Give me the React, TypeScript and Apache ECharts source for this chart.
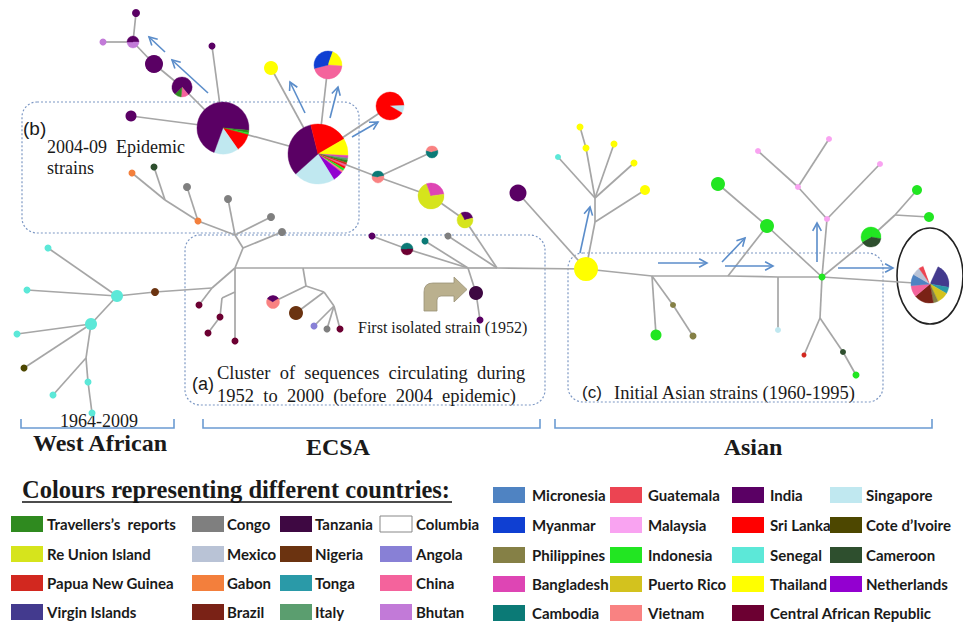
import React, { useEffect, useRef } from "react";
import * as echarts from "echarts";

type Slice = [string, number];
type NodeT = [string, number, number, number, Slice[]];

const TR = "Travellers’s  reports";
const CI = "Cote d’Ivoire";

// ---- legend (country colours) ----
const legendLeftNames = [TR, "Re Union Island", "Papua New Guinea", "Virgin Islands", "Congo", "Mexico", "Gabon", "Brazil", "Tanzania", "Nigeria", "Tonga", "Italy", "Columbia", "Angola", "China", "Bhutan"];
const legendLeftColors = ["#2f8a1f", "#d6e41c", "#d2281f", "#433a8e", "#7f7f7f", "#b9c3d6", "#f37f3c", "#7a2216", "#3e0842", "#6b3310", "#2a9aa8", "#5b9e6f", "#ffffff", "#8880d6", "#f4639c", "#c27ad8"];
const legendRightNames = ["Micronesia", "Myanmar", "Philippines", "Bangladesh", "Cambodia", "Guatemala", "Malaysia", "Indonesia", "Puerto Rico", "Vietnam", "India", "Sri Lanka", "Senegal", "Thailand", "Central African Republic", "Singapore", CI, "Cameroon", "Netherlands"];
const legendRightColors = ["#4f83c2", "#0f3fd2", "#858046", "#de45b4", "#0b7a76", "#ec4452", "#f9a3f1", "#22e622", "#d3c21e", "#f98282", "#5a0064", "#ff0000", "#5ce8d8", "#ffff00", "#6c0032", "#c0e8f0", "#4d4700", "#2e4f2e", "#9300d0"];

// ---- network nodes: id, x, y, radius, composition (degrees clockwise from 12 o'clock) ----
const westAfricanNodes: NodeT[] = [
  ["wa1", 48, 248, 3.5, [["Senegal", 1]]],
  ["wa2", 27, 290, 3.5, [["Senegal", 1]]],
  ["waHub", 117, 296, 6, [["Senegal", 1]]],
  ["waBrown", 155, 292, 4, [["Nigeria", 1]]],
  ["waHub2", 91, 324, 6, [["Senegal", 1]]],
  ["wa3", 17, 334, 3.5, [["Senegal", 1]]],
  ["wa4", 24, 368, 3.5, [[CI, 1]]],
  ["waJ", 86, 358, 0, []],
  ["wa5", 53, 395, 3.5, [["Senegal", 1]]],
  ["wa6", 88, 382, 3.5, [["Senegal", 1]]],
  ["wa7", 92, 413, 3.5, [["Senegal", 1]]],
];

const ecsaNodes: NodeT[] = [
  ["eB", 212, 288, 0, []],
  ["eA", 235, 268, 0, []],
  ["eC", 235, 292, 0, []],
  ["eD", 222, 298, 0, []],
  ["dr1", 199, 305, 3.5, [["Central African Republic", 1]]],
  ["dr2", 220, 317, 3.5, [["Central African Republic", 1]]],
  ["dr3", 208, 333, 3.5, [["Central African Republic", 1]]],
  ["dr4", 235, 341, 3.5, [["Central African Republic", 1]]],
  ["eJ1", 243, 248, 0, []],
  ["eJ2", 235, 235, 0, []],
  ["eK", 165, 200, 0, []],
  ["gab1", 132, 173, 3.5, [["Gabon", 1]]],
  ["cam1", 154, 167, 3.5, [["Cameroon", 1]]],
  ["gab2", 198, 221, 3.5, [["Gabon", 1]]],
  ["con1", 187, 187, 4, [["Congo", 1]]],
  ["con2", 228, 199, 4, [["Congo", 1]]],
  ["con3", 271, 217, 4, [["Congo", 1]]],
  ["con4", 282, 232, 4, [["Congo", 1]]],
  ["eM1", 303, 268, 0, []],
  ["eM2", 306, 286, 0, []],
  ["ePie1", 273, 302, 6.5, [["India", 60], ["Vietnam", 240], ["India", 60]]],
  ["eM3", 324, 292, 0, []],
  ["nig", 296, 313, 7, [["Nigeria", 1]]],
  ["eM4", 334, 306, 0, []],
  ["ang", 314, 326, 3.5, [["Angola", 1]]],
  ["con5", 327, 329, 3.5, [["Congo", 1]]],
  ["dr5", 340, 329, 3.5, [["Central African Republic", 1]]],
  ["eJa", 468, 268, 0, []],
  ["eJb", 497, 268, 0, []],
  ["tanz", 476, 293, 7, [["Tanzania", 1]]],
  ["tanzS", 480, 320, 3.5, [["India", 1]]],
  ["indS", 372, 236, 3.5, [["India", 1]]],
  ["ePie2", 407, 249, 6, [["Cambodia", 90], ["Central African Republic", 180], ["Cambodia", 90]]],
  ["camb1", 425, 241, 3.5, [["Cambodia", 1]]],
  ["con6", 448, 236, 3.5, [["Congo", 1]]],
];

const epidemicNodes: NodeT[] = [
  ["ep1", 136, 13, 4, [["India", 1]]],
  ["ep2", 133, 42, 6, [["India", 90], ["Bhutan", 180], ["India", 90]]],
  ["ep3", 103, 42, 3.5, [["Bhutan", 1]]],
  ["ep4", 154, 64, 9, [["India", 1]]],
  ["ep5", 182, 87, 10, [["India", 140], ["China", 45], [TR, 40], ["India", 135]]],
  ["ep6", 212, 46, 3.5, [["India", 1]]],
  ["ep7", 131, 116, 5.5, [["India", 1]]],
  ["ep8", 223, 128, 26, [["India", 95], [TR, 6], ["Indonesia", 4], ["Sri Lanka", 40], ["Singapore", 55], ["India", 160]]],
  ["ep9", 271, 68, 7, [["Thailand", 1]]],
  ["ep10", 328, 65, 14, [["Myanmar", 20], ["Thailand", 74], ["China", 162], ["Myanmar", 104]]],
  ["ep11", 390, 106, 14, [["Sri Lanka", 88], ["Singapore", 32], ["Sri Lanka", 240]]],
  ["ep12", 318, 154, 30, [["Sri Lanka", 60], ["Thailand", 33], ["Bangladesh", 5], ["Italy", 4], [TR, 5], ["Papua New Guinea", 4], ["China", 4], ["Sri Lanka", 4], ["Indonesia", 5], ["Vietnam", 4], ["Netherlands", 20], ["Singapore", 80], ["India", 118], ["Sri Lanka", 14]]],
  ["ep13", 378, 177, 6, [["Cambodia", 80], ["Vietnam", 200], ["Cambodia", 80]]],
  ["ep14", 432, 152, 6, [["Vietnam", 75], ["Cambodia", 210], ["Vietnam", 75]]],
  ["ep15", 431, 196, 13, [["Bangladesh", 82], ["Re Union Island", 258], ["Bangladesh", 20]]],
  ["ep16", 465, 220, 8, [["India", 75], ["Re Union Island", 255], ["India", 30]]],
];

const asianNodes: NodeT[] = [
  ["hub", 586, 269, 12, [["Thailand", 1]]],
  ["purp", 518, 193, 8.5, [["India", 1]]],
  ["aJu1", 595, 222, 0, []],
  ["aJu2", 595, 198, 0, []],
  ["aY1", 645, 190, 5, [["Thailand", 1]]],
  ["aC", 558, 157, 3, [["Senegal", 1]]],
  ["aY2", 586, 148, 3.5, [["Thailand", 1]]],
  ["aY3", 580, 127, 3.5, [["Thailand", 1]]],
  ["aY4", 614, 144, 3.5, [["Thailand", 1]]],
  ["aY5", 634, 163, 3.5, [["Thailand", 1]]],
  ["aM1", 652, 276, 0, []],
  ["aG1", 656, 335, 5.5, [["Indonesia", 1]]],
  ["aP1", 673, 305, 3, [["Philippines", 1]]],
  ["aP2", 693, 336, 3.5, [["Philippines", 1]]],
  ["aM2", 728, 276, 0, []],
  ["aGr1", 718, 184, 7, [["Indonesia", 1]]],
  ["aGr2", 767, 226, 7, [["Indonesia", 1]]],
  ["aM3", 778, 277, 0, []],
  ["aSg", 778, 330, 3, [["Singapore", 1]]],
  ["aJ", 822, 277, 3.5, [["Indonesia", 1]]],
  ["aPk1", 758, 151, 3, [["Malaysia", 1]]],
  ["aPk2", 829, 139, 3, [["Malaysia", 1]]],
  ["aPk3", 798, 187, 3, [["Malaysia", 1]]],
  ["aPk4", 827, 219, 3, [["Malaysia", 1]]],
  ["aPk5", 880, 164, 3, [["Malaysia", 1]]],
  ["aGp", 871, 237, 10, [["Indonesia", 100], ["Cameroon", 140], ["Indonesia", 120]]],
  ["aJ3", 895, 215, 0, []],
  ["aG2", 917, 190, 5, [["Indonesia", 1]]],
  ["aG3", 929, 217, 5, [["Indonesia", 1]]],
  ["aJ4", 820, 318, 0, []],
  ["aPng", 804, 355, 2.5, [["Papua New Guinea", 1]]],
  ["aCm", 843, 352, 3, [["Cameroon", 1]]],
  ["aG4", 856, 375, 3.5, [["Indonesia", 1]]],
  ["aCircle", 930, 284, 19, [["Columbia", 25], ["Virgin Islands", 75], ["Tonga", 20], ["Puerto Rico", 35], ["Philippines", 15], ["Brazil", 60], ["China", 35], ["Micronesia", 35], ["Mexico", 25], ["Guatemala", 15], ["Columbia", 20]]],
];

// ---- network links ----
const westAfricanEdges: [string, string][] = [
  ["wa1", "waHub"], ["wa2", "waHub"], ["waHub", "waBrown"], ["waHub", "waHub2"], ["waHub2", "wa3"], ["waHub2", "wa4"],
  ["waHub2", "waJ"], ["waJ", "wa5"], ["waJ", "wa6"], ["wa6", "wa7"], ["waBrown", "eB"],
];
const ecsaEdges: [string, string][] = [
  ["eB", "eA"], ["eB", "dr1"], ["eA", "eC"], ["eC", "dr4"], ["eC", "eD"], ["eD", "dr2"], ["dr2", "dr3"],
  ["eA", "eJ1"], ["eJ1", "eJ2"], ["eJ1", "con4"], ["eJ2", "gab2"], ["eJ2", "con2"], ["eJ2", "con3"],
  ["gab2", "eK"], ["gab2", "con1"], ["eK", "gab1"], ["eK", "cam1"],
  ["eA", "eM1"], ["eM1", "eM2"], ["eM2", "ePie1"], ["eM2", "eM3"], ["eM3", "nig"], ["eM3", "eM4"],
  ["eM4", "ang"], ["eM4", "con5"], ["eM4", "dr5"],
  ["eM1", "eJa"], ["eJa", "eJb"], ["eJa", "tanz"], ["tanz", "tanzS"], ["eJa", "ePie2"], ["ePie2", "indS"],
  ["eJa", "camb1"], ["eJb", "con6"], ["eJb", "hub"],
];
const epidemicEdges: [string, string][] = [
  ["ep1", "ep2"], ["ep2", "ep3"], ["ep2", "ep4"], ["ep4", "ep5"], ["ep5", "ep8"], ["ep6", "ep8"], ["ep7", "ep8"],
  ["ep8", "ep12"], ["ep12", "ep9"], ["ep12", "ep10"], ["ep12", "ep11"], ["ep12", "ep13"], ["ep13", "ep14"],
  ["ep13", "ep15"], ["ep15", "ep16"], ["ep16", "eJb"],
];
const asianEdges: [string, string][] = [
  ["purp", "hub"], ["hub", "aJu1"], ["aJu1", "aJu2"], ["aJu1", "aY1"], ["aJu2", "aC"], ["aJu2", "aY2"], ["aY2", "aY3"],
  ["aJu2", "aY4"], ["aJu2", "aY5"], ["hub", "aM1"], ["aM1", "aG1"], ["aM1", "aP1"], ["aP1", "aP2"], ["aM1", "aM2"],
  ["aM2", "aGr2"], ["aGr1", "aGr2"], ["aGr2", "aJ"], ["aM2", "aM3"], ["aM3", "aSg"], ["aM3", "aJ"],
  ["aJ", "aPk4"], ["aPk4", "aPk3"], ["aPk3", "aPk1"], ["aPk3", "aPk2"], ["aPk4", "aPk5"],
  ["aJ", "aGp"], ["aGp", "aJ3"], ["aJ3", "aG2"], ["aJ3", "aG3"], ["aJ", "aJ4"], ["aJ4", "aPng"], ["aJ4", "aCm"],
  ["aCm", "aG4"], ["aJ", "aCircle"],
];

// ---- spread arrows: x1, y1, x2, y2 ----
const spreadArrows: number[][] = [
  [208, 93, 172, 60], [165, 52, 149, 37], [305, 113, 290, 82], [330, 118, 338, 87], [352, 137, 378, 122],
  [580, 253, 590, 207], [658, 263, 707, 263], [722, 262, 745, 238], [725, 266, 773, 266], [817, 262, 817, 223], [838, 268, 893, 268],
];

const SERIF = '"Liberation Serif", "Times New Roman", serif';
const SANS = '"Liberation Sans", Arial, sans-serif';
const LEG = 'Lato, "Open Sans", sans-serif';

echarts.graphic.registerShape(
  "bentArrow",
  echarts.graphic.extendPath("M0,34 L0,15 Q0,6 9,6 L30,6 L30,0 L43,12.5 L30,25 L30,19 L17,19 Q13,19 13,23 L13,34 Z", {})
);

export default function App() {
  const ref = useRef<HTMLDivElement>(null);
  useEffect(() => {
    if (!ref.current) return;
    const chart = echarts.init(ref.current, null, { renderer: "svg" });

    const colorMap: Record<string, string> = {};
    legendLeftNames.forEach((n, i) => (colorMap[n] = legendLeftColors[i]));
    legendRightNames.forEach((n, i) => (colorMap[n] = legendRightColors[i]));

    const allNodes = [...westAfricanNodes, ...ecsaNodes, ...epidemicNodes, ...asianNodes];
    const pos: Record<string, [number, number]> = {};
    allNodes.forEach((n) => (pos[n[0]] = [n[1], n[2]]));
    const allEdges = [...westAfricanEdges, ...ecsaEdges, ...epidemicEdges, ...asianEdges];
    const visible = allNodes.filter((n) => n[3] > 0);

    const graphics: any[] = [];
    // dashed boxes
    const boxes = [
      [22, 102, 337, 131],
      [185, 235, 360, 170],
      [568, 253, 315, 149],
    ];
    boxes.forEach((b) =>
      graphics.push({
        type: "rect",
        shape: { x: b[0], y: b[1], width: b[2], height: b[3], r: 15 },
        style: { fill: "none", stroke: "#7d98c4", lineWidth: 1.2, lineDash: [2, 2] },
        z: 0,
      })
    );
    // brackets
    const brackets = [
      [21, 174],
      [203, 540],
      [555, 932],
    ];
    brackets.forEach((b) =>
      graphics.push({
        type: "polyline",
        shape: { points: [[b[0], 419], [b[0], 428], [b[1], 428], [b[1], 419]] },
        style: { fill: "none", stroke: "#6b9bd2", lineWidth: 1.6 },
      })
    );
    // ellipse
    graphics.push({
      type: "ellipse",
      shape: { cx: 930, cy: 276, rx: 33, ry: 48 },
      style: { fill: "none", stroke: "#222", lineWidth: 1.6 },
    });
    // bent arrow
    graphics.push({
      type: "bentArrow",
      x: 424,
      y: 277,
      style: { fill: "#bab08e", stroke: "#9a9277", lineWidth: 0.8 },
    });

    const txt = (text: string, x: number, y: number, font: string, align = "left") => ({
      type: "text",
      x,
      y,
      style: { text, font, fill: "#1a1a1a", textAlign: align, textVerticalAlign: "middle" },
    });
    graphics.push(txt("(b)", 23, 128, `19px ${SANS}`));
    graphics.push(txt("2004-09  Epidemic", 47, 147, `18px ${SERIF}`));
    graphics.push(txt("strains", 47, 168, `18px ${SERIF}`));
    graphics.push(txt("First isolated strain (1952)", 358, 327, `16px ${SERIF}`));
    graphics.push(txt("(a)", 192, 384, `18px ${SANS}`));
    graphics.push(txt("Cluster  of  sequences  circulating  during", 217, 373, `18.5px ${SERIF}`));
    graphics.push(txt("1952  to  2000  (before  2004  epidemic)", 217, 396, `18.5px ${SERIF}`));
    graphics.push(txt("(c)", 582, 392, `17px ${SANS}`));
    graphics.push(txt("Initial Asian strains (1960-1995)", 614, 393, `18.5px ${SERIF}`));
    graphics.push(txt("1964-2009", 99, 421, `18px ${SERIF}`, "center"));
    graphics.push(txt("West African", 100, 443, `bold 24px ${SERIF}`, "center"));
    graphics.push(txt("ECSA", 338, 447, `bold 24px ${SERIF}`, "center"));
    graphics.push(txt("Asian", 753, 447, `bold 24px ${SERIF}`, "center"));
    graphics.push(txt("Colours representing different countries:", 22, 489, `bold 24.5px ${SERIF}`));
    graphics.push({ type: "line", shape: { x1: 22, y1: 502, x2: 452, y2: 502 }, style: { stroke: "#111", lineWidth: 1.5 } });

    // colour legend
    const leftSw = [11, 192, 280, 380];
    const leftTx = [47, 227, 315, 416];
    const leftRows = [524, 554, 583, 612];
    legendLeftNames.forEach((n, i) => {
      const c = Math.floor(i / 4), r = i % 4;
      graphics.push({
        type: "rect",
        shape: { x: leftSw[c], y: leftRows[r] - 8, width: 32, height: 16 },
        style: { fill: legendLeftColors[i], stroke: n === "Columbia" ? "#888" : "none", lineWidth: 1 },
      });
      graphics.push(txt(n, leftTx[c], leftRows[r], `bold 15px ${LEG}`));
    });
    const rightSw = [493, 610, 732, 830];
    const rightTx = [532, 648, 770, 866];
    const rightRows = [495, 525, 555, 584, 613];
    legendRightNames.forEach((n, i) => {
      const c = Math.floor(i / 5), r = i % 5;
      graphics.push({
        type: "rect",
        shape: { x: rightSw[c], y: rightRows[r] - 8, width: 32, height: 16 },
        style: { fill: legendRightColors[i] },
      });
      graphics.push(txt(n, rightTx[c], rightRows[r], `bold 15px ${LEG}`));
    });

    chart.setOption({
      animation: false,
      grid: { left: 0, right: 0, top: 0, bottom: 0 },
      xAxis: { type: "value", min: 0, max: 963, show: false },
      yAxis: { type: "value", min: 0, max: 625, inverse: true, show: false },
      graphic: graphics,
      series: [
        {
          type: "lines",
          coordinateSystem: "cartesian2d",
          z: 2,
          lineStyle: { color: "#a6a6a6", width: 1.7, opacity: 1 },
          data: allEdges.map(([a, b]) => ({ coords: [pos[a], pos[b]] })),
        },
        {
          type: "custom",
          coordinateSystem: "cartesian2d",
          z: 3,
          encode: { x: 0, y: 1 },
          data: spreadArrows,
          renderItem: (params: any, api: any) => {
            const p1 = api.coord([api.value(0), api.value(1)]);
            const p2 = api.coord([api.value(2), api.value(3)]);
            const ang = Math.atan2(p2[1] - p1[1], p2[0] - p1[0]);
            const L = 9, A = 0.5;
            const h1 = [p2[0] - L * Math.cos(ang - A), p2[1] - L * Math.sin(ang - A)];
            const h2 = [p2[0] - L * Math.cos(ang + A), p2[1] - L * Math.sin(ang + A)];
            const st = { stroke: "#5b8dca", lineWidth: 1.6, fill: "none" };
            return {
              type: "group",
              children: [
                { type: "line", shape: { x1: p1[0], y1: p1[1], x2: p2[0], y2: p2[1] }, style: st },
                { type: "polyline", shape: { points: [h1, p2, h2] }, style: st },
              ],
            };
          },
        },
        {
          type: "custom",
          coordinateSystem: "cartesian2d",
          z: 4,
          encode: { x: 0, y: 1 },
          data: visible.map((n) => [n[1], n[2], n[3]]),
          renderItem: (params: any, api: any) => {
            const n = visible[params.dataIndex];
            const c = api.coord([api.value(0), api.value(1)]);
            const r = api.value(2);
            const comp = n[4];
            if (comp.length === 1) {
              return { type: "circle", shape: { cx: c[0], cy: c[1], r }, style: { fill: colorMap[comp[0][0]] } };
            }
            const total = comp.reduce((s, x) => s + x[1], 0);
            let acc = 0;
            const children = comp.map(([name, v]) => {
              const s = -Math.PI / 2 + (acc / total) * Math.PI * 2;
              acc += v;
              const e = -Math.PI / 2 + (acc / total) * Math.PI * 2;
              const col = colorMap[name];
              return {
                type: "sector",
                shape: { cx: c[0], cy: c[1], r0: 0, r, startAngle: s, endAngle: e, clockwise: true },
                style: { fill: col, stroke: col, lineWidth: 0.4 },
              };
            });
            return { type: "group", children };
          },
        },
      ],
    });
    return () => chart.dispose();
  }, []);
  return <div ref={ref} style={{ position: "fixed", left: 0, top: 0, width: 963, height: 625, background: "#fff" }} />;
}
